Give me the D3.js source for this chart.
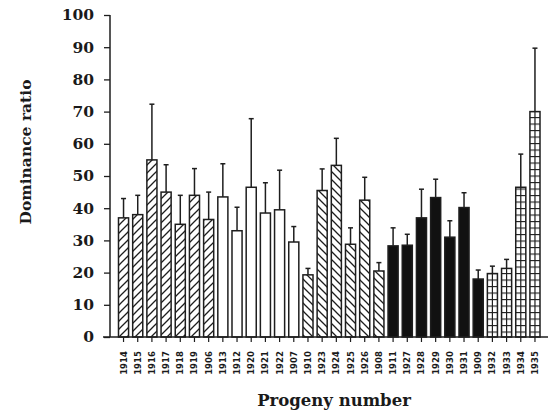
<!DOCTYPE html>
<html>
<head>
<meta charset="utf-8">
<script src="https://cdn.jsdelivr.net/npm/d3@7"></script>
<style>
  html, body { margin: 0; padding: 0; background: #fff; }
  svg { display: block; }
  .title, .y-tick text { font-family: "DejaVu Serif", "Liberation Serif", serif; font-weight: bold; fill: #1a1a1a; }
  .x-tick text { font-family: "DejaVu Sans", sans-serif; font-weight: bold; fill: #1a1a1a; font-size: 8.5px; }
</style>
</head>
<body>
<svg id="chart" width="550" height="414"></svg>
<script>
// Progeny numbers along the x axis
const progeny = ["1914","1915","1916","1917","1918","1919","1906",
                 "1913","1912","1920","1921","1922","1907",
                 "1910","1923","1924","1925","1926","1908",
                 "1911","1927","1928","1929","1930","1931","1909",
                 "1932","1933","1934","1935"];
// Mean dominance ratio per progeny
const ratio = [37, 38, 55, 45, 35, 44, 36.5,
               43.5, 33, 46.5, 38.5, 39.5, 29.5,
               19.3, 45.5, 53.3, 28.8, 42.5, 20.5,
               28.3, 28.5, 37, 43.3, 31, 40.2, 18,
               19.7, 21.3, 46.5, 70];
// Upper error (standard error added to the mean)
const errUp = [6, 6, 17.3, 8.5, 9, 8.3, 8.5,
               10.3, 7.3, 21.3, 9.4, 12.3, 4.8,
               2, 6.7, 8.4, 5.1, 7.1, 2.6,
               5.6, 3.4, 8.9, 5.7, 5.1, 4.6, 2.8,
               2.3, 2.8, 10.3, 19.7];
// Fill pattern per progeny group
const group = ["up","up","up","up","up","up","up",
               "open","open","open","open","open","open",
               "down","down","down","down","down","down",
               "solid","solid","solid","solid","solid","solid","solid",
               "grid","grid","grid","grid"];
const yTicks = [0,10,20,30,40,50,60,70,80,90,100];

const ink = "#1e1e1e";
const svg = d3.select("#chart");
const defs = svg.append("defs");

// "/" hatching
const pUp = defs.append("pattern").attr("id","hatchUp")
  .attr("patternUnits","userSpaceOnUse").attr("width",8).attr("height",8);
pUp.append("rect").attr("width",8).attr("height",8).attr("fill","#fff");
pUp.append("path").attr("d","M0,8 L8,0 M-2,2 L2,-2 M6,10 L10,6")
  .attr("stroke",ink).attr("stroke-width",1.3);

// "\" hatching
const pDown = defs.append("pattern").attr("id","hatchDown")
  .attr("patternUnits","userSpaceOnUse").attr("width",8).attr("height",8);
pDown.append("rect").attr("width",8).attr("height",8).attr("fill","#fff");
pDown.append("path").attr("d","M0,0 L8,8 M-2,6 L2,10 M6,-2 L10,2")
  .attr("stroke",ink).attr("stroke-width",1.3);

// horizontal rungs for the ladder fill
const pGrid = defs.append("pattern").attr("id","rungs")
  .attr("patternUnits","userSpaceOnUse").attr("width",10).attr("height",6.5);
pGrid.append("rect").attr("width",10).attr("height",6.5).attr("fill","#fff");
pGrid.append("line").attr("x1",0).attr("x2",10).attr("y1",0.5).attr("y2",0.5)
  .attr("stroke",ink).attr("stroke-width",1.2);

const fills = { up: "url(#hatchUp)", down: "url(#hatchDown)", open: "#fff",
                solid: "#111", grid: "url(#rungs)" };

const x = d3.scaleBand().domain(progeny).range([118.5, 540]).paddingInner(0.29).paddingOuter(0);
const y = d3.scaleLinear().domain([0, 100]).range([337, 15]);

const rows = progeny.map((p, i) => ({ p, v: ratio[i], e: errUp[i], g: group[i] }));

// error bars (upper only)
const eb = svg.append("g").attr("stroke", ink).attr("stroke-width", 1.5);
eb.selectAll("line.stem").data(rows).join("line").attr("class","stem")
  .attr("x1", d => x(d.p) + x.bandwidth()/2).attr("x2", d => x(d.p) + x.bandwidth()/2)
  .attr("y1", d => y(d.v)).attr("y2", d => y(d.v + d.e));
eb.selectAll("line.cap").data(rows).join("line").attr("class","cap")
  .attr("x1", d => x(d.p) + x.bandwidth()/2 - 2.5).attr("x2", d => x(d.p) + x.bandwidth()/2 + 2.5)
  .attr("y1", d => y(d.v + d.e)).attr("y2", d => y(d.v + d.e));

// bars
svg.append("g").selectAll("rect").data(rows).join("rect")
  .attr("x", d => x(d.p)).attr("width", x.bandwidth())
  .attr("y", d => y(d.v)).attr("height", d => y(0) - y(d.v))
  .attr("fill", d => fills[d.g]).attr("stroke", ink).attr("stroke-width", 1.5);

// centre spine of the ladder bars
svg.append("g").selectAll("line").data(rows.filter(d => d.g === "grid")).join("line")
  .attr("x1", d => x(d.p) + x.bandwidth()/2).attr("x2", d => x(d.p) + x.bandwidth()/2)
  .attr("y1", d => y(d.v)).attr("y2", y(0))
  .attr("stroke", ink).attr("stroke-width", 1.2);

// y axis
const yAxis = svg.append("g").attr("class", "y-tick").attr("transform", "translate(110,0)")
  .call(d3.axisLeft(y).tickValues(yTicks).tickSize(6).tickPadding(10));
yAxis.select(".domain").attr("stroke", ink).attr("stroke-width", 1.5).attr("d", "M0,15V337");
yAxis.selectAll(".tick line").attr("stroke", ink).attr("stroke-width", 1.3);
yAxis.selectAll(".tick text").attr("font-size", 15.5);

// x axis
const xAxis = svg.append("g").attr("class", "x-tick").attr("transform", "translate(0,337)")
  .call(d3.axisBottom(x).tickSize(5).tickPadding(0));
xAxis.select(".domain").attr("stroke", ink).attr("stroke-width", 1.5).attr("d", "M103,0H548");
xAxis.selectAll(".tick line").attr("stroke", ink).attr("stroke-width", 1.2);
xAxis.selectAll(".tick text")
  .attr("transform", "translate(0,26) rotate(-90)")
  .attr("text-anchor", "middle").attr("dy", "0.35em").attr("y", 0);

// axis titles
svg.append("text").attr("class", "title").attr("transform", "translate(31,152) rotate(-90)")
  .attr("text-anchor", "middle").attr("font-size", 15.5).text("Dominance ratio");
svg.append("text").attr("class", "title").attr("x", 334).attr("y", 406)
  .attr("text-anchor", "middle").attr("font-size", 16.5).text("Progeny number");
</script>
</body>
</html>
